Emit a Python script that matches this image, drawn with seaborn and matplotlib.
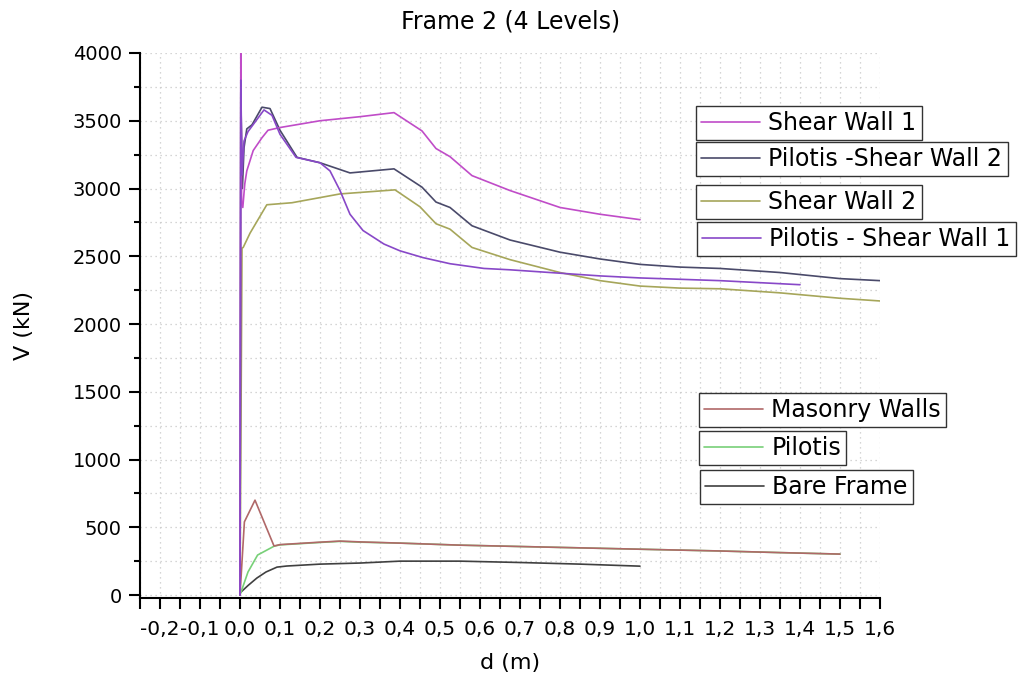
import matplotlib
matplotlib.use("Agg")
import matplotlib.pyplot as plt
import seaborn as sns
import pandas as pd
from matplotlib.ticker import MultipleLocator, FuncFormatter
from matplotlib.lines import Line2D

# ---- data ----
sw1_d = [0, 0.002, 0.004, 0.007, 0.012, 0.017, 0.033, 0.055, 0.07, 0.1, 0.2, 0.3, 0.385,
         0.455, 0.49, 0.525, 0.58, 0.675, 0.8, 0.9, 1.0]
sw1_v = [0, 4000, 2900, 2860, 3035, 3130, 3280, 3375, 3430, 3450, 3500, 3530, 3560,
         3425, 3295, 3235, 3095, 2985, 2860, 2810, 2770]

psw2_d = [0, 0.002, 0.006, 0.01, 0.017, 0.03, 0.055, 0.075, 0.1, 0.1425, 0.2, 0.275, 0.385,
          0.455, 0.49, 0.525, 0.58, 0.675, 0.8, 0.9, 1.0, 1.1, 1.2, 1.35, 1.5, 1.6]
psw2_v = [0, 3700, 3000, 3300, 3440, 3470, 3600, 3590, 3430, 3230, 3190, 3115, 3145,
          3010, 2900, 2860, 2725, 2620, 2530, 2480, 2440, 2420, 2410, 2380, 2335, 2320]

sw2_d = [0, 0.005, 0.008, 0.025, 0.067, 0.13, 0.25, 0.3875, 0.45, 0.49, 0.525, 0.58, 0.675,
         0.8, 0.9, 1.0, 1.1, 1.2, 1.35, 1.5, 1.6]
sw2_v = [0, 2560, 2565, 2670, 2880, 2895, 2960, 2990, 2865, 2740, 2700, 2565, 2475,
         2380, 2320, 2280, 2265, 2260, 2230, 2190, 2170]

psw1_d = [0, 0.002, 0.005, 0.01, 0.02, 0.035, 0.06, 0.08, 0.1, 0.14, 0.2, 0.225, 0.25, 0.275,
          0.3075, 0.36, 0.4, 0.4575, 0.525, 0.61, 0.675, 0.8, 0.9, 1.0, 1.1, 1.2, 1.3, 1.4]
psw1_v = [0, 3800, 3100, 3350, 3420, 3480, 3580, 3540, 3400, 3230, 3190, 3130, 2985, 2810,
          2690, 2590, 2540, 2490, 2445, 2410, 2400, 2375, 2355, 2340, 2330, 2320, 2305, 2290]

mw_d = [0, 0.011, 0.0375, 0.085, 0.1, 0.2, 0.25, 0.3, 0.4, 0.55, 0.7, 0.85, 1.0, 1.2, 1.35, 1.5]
mw_v = [0, 540, 700, 362, 372, 390, 398, 392, 383, 368, 358, 348, 338, 325, 313, 302]

pl_d = [0, 0.02, 0.044, 0.085, 0.1, 0.2, 0.25, 0.3, 0.4, 0.55, 0.7, 0.85, 1.0, 1.2, 1.35, 1.5]
pl_v = [0, 170, 295, 360, 370, 388, 396, 390, 383, 368, 358, 348, 338, 325, 313, 302]

bf_d = [0, 0.02, 0.042, 0.065, 0.0925, 0.117, 0.2, 0.3, 0.4, 0.55, 0.7, 0.85, 1.0]
bf_v = [15, 70, 125, 170, 206, 214, 228, 236, 250, 250, 240, 228, 213]

series_names = ["Shear Wall 1", "Pilotis -Shear Wall 2", "Shear Wall 2", "Pilotis - Shear Wall 1",
                "Masonry Walls", "Pilotis", "Bare Frame"]
series_d = [sw1_d, psw2_d, sw2_d, psw1_d, mw_d, pl_d, bf_d]
series_v = [sw1_v, psw2_v, sw2_v, psw1_v, mw_v, pl_v, bf_v]
series_colors = ["#c04cc8", "#4a4a6a", "#a6a65a", "#8848c8", "#b06868", "#78d078", "#404040"]

x_major = 0.1
y_major = 500

# ---- style ----
sns.set_style("white")
plt.rcParams['font.family'] = ['DejaVu Sans']
plt.rcParams['text.color'] = 'black'
plt.rcParams['axes.labelcolor'] = 'black'
plt.rcParams['xtick.color'] = 'black'
plt.rcParams['ytick.color'] = 'black'

fig = plt.figure(figsize=(10.21, 6.85), dpi=100)
ax = fig.add_axes([140 / 1021, 1 - 598 / 685, 740 / 1021, 545 / 685])

draw_order = [6, 5, 4, 2, 1, 0, 3]
for i in draw_order:
    df = pd.DataFrame({"d": series_d[i], "V": series_v[i]})
    sns.lineplot(data=df, x="d", y="V", ax=ax, color=series_colors[i], lw=1.2,
                 sort=False, estimator=None, legend=False)

ax.set_xlim(-0.25, 1.6)
ax.set_ylim(-22, 4000)

ax.xaxis.set_major_locator(MultipleLocator(x_major))
ax.xaxis.set_minor_locator(MultipleLocator(x_major / 2))
ax.yaxis.set_major_locator(MultipleLocator(y_major))
ax.yaxis.set_minor_locator(MultipleLocator(y_major / 2))
ax.xaxis.set_major_formatter(FuncFormatter(lambda v, p: f"{v:.1f}".replace(".", ",").replace("-0,0", "0,0")))
ax.yaxis.set_major_formatter(FuncFormatter(lambda v, p: f"{int(round(v))}"))

ax.grid(True, which="both", color="#c8c8c8", linestyle=(0, (1, 3)), linewidth=0.9)
ax.set_axisbelow(True)

for s in ["top", "right"]:
    ax.spines[s].set_visible(False)
for s in ["left", "bottom"]:
    ax.spines[s].set_color("black")
    ax.spines[s].set_linewidth(1.5)

ax.tick_params(axis="x", which="major", direction="out", length=8, width=1.5, labelsize=14.5, pad=8,
               bottom=True)
ax.tick_params(axis="x", which="minor", direction="out", length=8, width=1.5, bottom=True)
ax.tick_params(axis="y", which="major", direction="out", length=8, width=1.5, labelsize=14, pad=5,
               left=True)
ax.tick_params(axis="y", which="minor", direction="out", length=4, width=1.5, left=True)

ax.set_xlabel("d (m)", fontsize=16, labelpad=10)
ax.set_ylabel("V (kN)", fontsize=16, labelpad=28)
fig.text(0.5, 1 - 22 / 685, "Frame 2 (4 Levels)", ha="center", va="center", fontsize=17)

# ---- separately boxed legend entries ----
legend_pos = [(696, 106), (696, 142), (696, 185), (697, 222), (699, 393), (699, 431), (700, 470)]
for i, (px, py) in enumerate(legend_pos):
    h = Line2D([], [], color=series_colors[i], lw=1.2)
    leg = fig.legend(handles=[h], labels=[series_names[i]], loc="upper left",
                     bbox_to_anchor=(px / 1021, 1 - py / 685), bbox_transform=fig.transFigure,
                     frameon=True, fancybox=False, framealpha=1, edgecolor="#333333",
                     fontsize=17, handlelength=2.5, handletextpad=0.35, borderpad=0.22,
                     borderaxespad=0)
    leg.get_frame().set_linewidth(1.0)

fig.savefig("out.png", dpi=100)
